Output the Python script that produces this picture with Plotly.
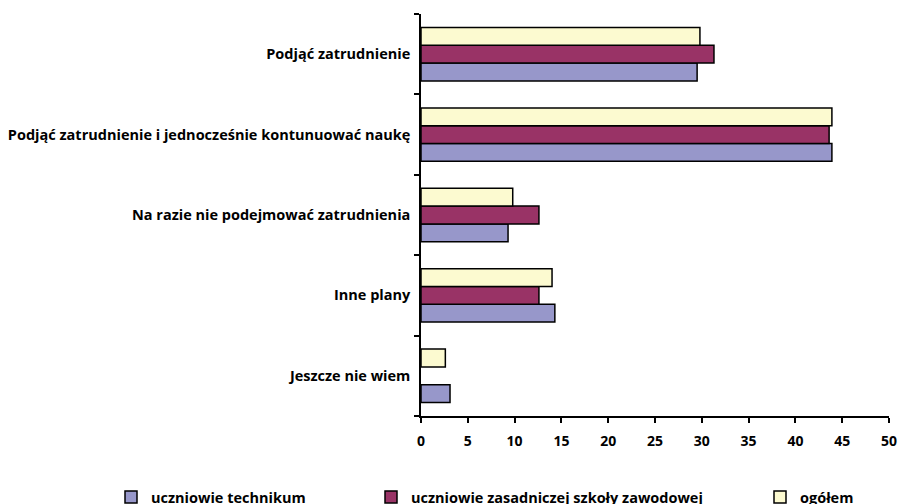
import plotly.graph_objects as go

categories = [
    "Podjąć zatrudnienie",
    "Podjąć zatrudnienie i jednocześnie kontunuować naukę",
    "Na razie nie podejmować zatrudnienia",
    "Inne plany",
    "Jeszcze nie wiem",
]
series_names = ["uczniowie technikum", "uczniowie zasadniczej szkoły zawodowej", "ogółem"]
technikum = [29.5, 43.9, 9.3, 14.3, 3.1]
zasadnicza = [31.3, 43.6, 12.6, 12.6, None]
ogolem = [29.8, 43.9, 9.8, 14.0, 2.6]
x_ticks = [0, 5, 10, 15, 20, 25, 30, 35, 40, 45, 50]

colors = ["#9797CA", "#993366", "#FCFAD0"]
values = [technikum, zasadnicza, ogolem]
legend_ids = ["legend", "legend2", "legend3"]

font_family = "'Open Sans', Lato, sans-serif"
label_size = 14.5

fig = go.Figure()
cats_bottom_up = categories[::-1]
for name, vals, col, lg in zip(series_names, values, colors, legend_ids):
    fig.add_trace(go.Bar(
        y=cats_bottom_up,
        x=vals[::-1],
        name=name,
        orientation="h",
        marker=dict(color=col, line=dict(color="#000000", width=1.5)),
        legend=lg,
    ))

L, R, T, B = 421, 10, 14, 88
PW, PH = 899 - L - R, 504 - T - B


def px_x(px):
    return (px - L) / PW


def px_y(py):
    return (504 - B - py) / PH


legend_common = dict(
    orientation="h",
    xref="paper", yref="paper",
    xanchor="left", yanchor="middle",
    font=dict(family=font_family, size=label_size, color="#000000", weight="bold"),
    bgcolor="rgba(0,0,0,0)",
    itemclick=False, itemdoubleclick=False,
)

fig.update_layout(
    width=899, height=504,
    margin=dict(l=L, r=R, t=T, b=B, autoexpand=False),
    paper_bgcolor="white", plot_bgcolor="white",
    barmode="group", bargap=0.336, bargroupgap=0,
    font=dict(family=font_family, size=label_size, color="#000000"),
    showlegend=True,
    legend=dict(x=px_x(111), y=px_y(497), **legend_common),
    legend2=dict(x=px_x(371), y=px_y(497), **legend_common),
    legend3=dict(x=px_x(760), y=px_y(497), **legend_common),
    xaxis=dict(
        range=[0, 50], tickvals=x_ticks, ticktext=[str(t) for t in x_ticks],
        showgrid=False, zeroline=False, automargin=False,
        showline=True, linecolor="#000000", linewidth=1.5,
        ticks="outside", ticklen=5, tickwidth=1.5, tickcolor="#000000",
        tickfont=dict(family=font_family, size=14, color="#000000", weight="bold"),
        ticklabelstandoff=6,
        fixedrange=True,
    ),
    yaxis=dict(
        type="category", categoryorder="array", categoryarray=cats_bottom_up,
        showgrid=False, zeroline=False, automargin=False,
        showline=True, linecolor="#000000", linewidth=1.5,
        ticks="outside", ticklen=5, tickwidth=1.5, tickcolor="#000000",
        tickson="boundaries",
        tickfont=dict(family=font_family, size=label_size, color="#000000", weight="bold"),
        ticklabelstandoff=6,
        fixedrange=True,
    ),
)

fig.write_html(
    "out.html",
    config={"displayModeBar": False},
    post_script="document.body.style.margin='0';document.body.style.overflow='hidden';",
)
